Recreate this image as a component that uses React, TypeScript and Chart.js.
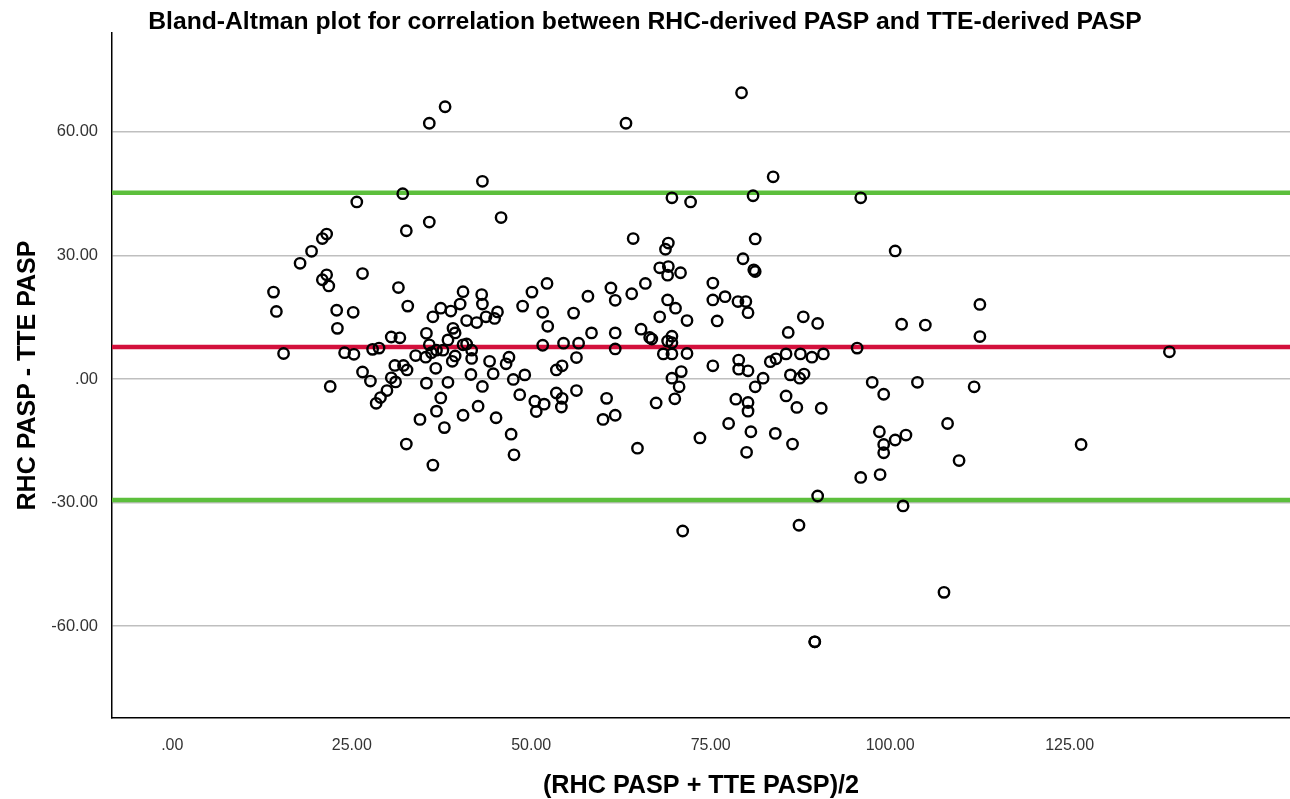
import React, { useEffect, useRef } from 'react';
import { Chart, registerables } from 'chart.js';

Chart.register(...registerables);

// (RHC PASP + TTE PASP)/2
const meanValues = [
  14.1, 14.5, 15.5, 17.8, 19.4, 20.9, 21.5, 20.9, 21.5, 21.8,
  22.0, 22.9, 23.0, 24.0, 25.3, 25.2, 25.7, 26.5, 26.5, 27.6,
  27.9, 28.8, 28.4, 29.0, 29.9, 30.5, 31.7, 30.5, 31.1, 31.0,
  32.2, 32.7, 31.5, 32.1, 32.6, 32.8, 33.9, 32.6, 34.5, 35.8,
  38.0, 35.8, 43.2, 45.8, 35.4, 36.3, 37.4, 38.8, 40.1, 40.5,
  43.1, 43.2, 41.0, 42.4, 43.7, 39.1, 39.4, 38.4, 35.8, 36.8,
  37.7, 35.3, 36.1, 40.5, 41.0, 41.7, 41.7, 39.4, 39.0, 36.7,
  35.4, 38.4, 41.6, 43.2, 37.4, 36.8, 40.5, 42.6, 37.9, 36.3,
  44.9, 45.3, 48.8, 50.1, 52.2, 51.6, 52.3, 51.6, 44.2, 44.7,
  45.1, 46.5, 46.9, 47.5, 49.1, 47.2, 47.6, 48.4, 50.5, 51.8,
  50.7, 53.5, 54.3, 53.5, 54.3, 54.2, 54.5, 56.6, 56.3, 56.3,
  55.9, 57.9, 61.1, 61.7, 64.0, 65.9, 63.2, 64.2, 69.1, 68.7,
  67.9, 69.1, 69.0, 70.8, 69.0, 70.1, 67.9, 71.7, 65.3, 66.5,
  66.8, 69.6, 69.0, 69.6, 58.4, 61.7, 61.7, 68.4, 69.6, 71.7,
  60.5, 60.0, 61.7, 64.8, 67.4, 70.9, 69.6, 70.6, 70.0, 71.1,
  73.5, 69.6, 72.2, 79.3, 83.7, 80.9, 95.9, 81.2, 100.7, 79.5,
  81.0, 81.2, 75.3, 77.0, 75.3, 78.8, 79.9, 80.2, 75.9, 85.8,
  87.9, 89.9, 101.6, 104.9, 112.5, 112.5, 95.4, 75.3, 78.9, 78.9,
  80.2, 83.3, 84.1, 85.5, 87.5, 89.1, 90.7, 82.3, 81.2, 86.1,
  88.0, 87.4, 78.5, 80.2, 80.2, 85.5, 87.0, 90.4, 97.5, 99.1,
  103.8, 111.7, 77.5, 80.6, 84.0, 80.0, 86.4, 98.5, 99.1, 99.1,
  100.7, 102.2, 108.0, 109.6, 95.9, 98.6, 89.9, 101.8, 87.3, 107.5,
  89.5, 89.5, 138.9, 126.6,
];

// RHC PASP - TTE PASP
const diffValues = [
  21.1, 16.4, 6.2, 28.1, 31.0, 34.1, 35.2, 24.1, 25.3, 22.6,
  -1.8, 16.7, 12.3, 6.4, 6.0, 16.2, 43.0, 25.6, 1.7, -0.5,
  7.2, 7.5, -5.9, -4.5, -2.8, 10.2, 10.0, 0.3, -0.7, 3.3,
  3.3, 2.2, 22.2, 45.0, 36.0, 17.7, 5.7, -15.8, -9.8, 62.1,
  66.1, 38.1, 48.0, 39.2, 11.1, 15.1, 17.2, 16.5, 18.2, 21.2,
  20.5, 18.2, 14.2, 13.7, 15.1, 12.3, 11.2, 9.5, 8.3, 7.0,
  7.0, 5.3, 6.4, 8.3, 8.5, 7.0, 5.0, 5.6, 4.3, 2.6,
  -1.0, -0.8, 1.1, -1.8, -4.6, -7.8, -8.8, -6.6, -11.8, -20.9,
  14.7, 16.3, 17.7, 21.1, 23.2, 16.2, 12.8, 8.2, 4.3, 1.3,
  -9.4, 3.7, 5.3, -0.1, 1.0, -13.4, -18.4, -3.8, -5.4, -6.1,
  -7.9, 2.2, 3.2, -3.4, -4.7, -6.8, 8.7, 8.7, 5.2, -2.8,
  16.0, 20.1, 22.1, 19.1, 20.7, 23.2, 62.1, 34.1, 33.0, 31.5,
  27.0, 27.3, 25.2, 25.8, 19.2, 17.2, 15.1, 14.2, 12.1, 10.1,
  9.7, 10.4, 9.2, 8.8, 11.2, 11.2, 7.3, 6.1, 6.1, 6.2,
  -4.7, -9.8, -8.8, -16.8, -5.8, 1.8, 0.2, -1.9, -4.8, -36.9,
  -14.3, 44.0, 43.0, 69.5, 49.1, 44.5, 44.0, 34.0, 31.1, 29.2,
  26.5, 26.1, 23.3, 20.0, 19.2, 18.8, 18.8, 16.1, 14.1, 11.3,
  15.1, 13.5, 13.3, 13.1, 18.1, 10.3, 7.5, 3.2, 4.6, 2.4,
  2.0, 4.2, 4.9, 6.1, 6.1, 5.3, 6.1, 0.2, -1.9, 1.0,
  1.2, 0.2, -4.9, -5.7, -7.8, -4.1, -6.9, -7.1, -0.8, -3.7,
  -0.8, -1.9, -10.8, -12.8, -13.2, -17.8, -15.8, -12.8, -15.9, -17.9,
  -14.8, -13.6, -10.8, -19.8, -23.9, -23.2, -28.4, -30.8, -35.5, -51.8,
  -63.8, -63.8, 6.6, -15.9,
];

const meanDifference = 7.8;
const upperLimit = 45.2;
const lowerLimit = -29.4;

const xTicks = [0, 25, 50, 75, 100, 125];
const yTicks = [-60, -30, 0, 30, 60];
const xRange = [-8.4, 155.7];
const yRange = [-82.3, 84.0];

const titleText = 'Bland-Altman plot for correlation between RHC-derived PASP and TTE-derived PASP';
const xTitle = '(RHC PASP + TTE PASP)/2';
const yTitle = 'RHC PASP - TTE PASP';

const FONT = '"Liberation Sans", Arial, Helvetica, sans-serif';

const fmt = (v: number | string) => {
  const s = Number(v).toFixed(2);
  return s.replace(/^(-?)0\./, '$1.');
};

export default function App() {
  const ref = useRef<HTMLCanvasElement>(null);

  useEffect(() => {
    document.body.style.margin = '0';
    const canvas = ref.current;
    if (!canvas) return;
    const hLine = (v: number) => [
      { x: xRange[0], y: v },
      { x: xRange[1], y: v },
    ];
    const chart = new Chart(canvas, {
      type: 'scatter',
      data: {
        datasets: [
          {
            label: 'Difference',
            data: meanValues.map((m, i) => ({ x: m, y: diffValues[i] })),
            pointStyle: 'circle',
            pointRadius: 5.2,
            pointBorderWidth: 2.4,
            pointBorderColor: '#000000',
            pointBackgroundColor: 'rgba(0,0,0,0)',
            showLine: false,
          } as any,
          {
            type: 'line',
            label: 'Upper LoA',
            data: hLine(upperLimit),
            borderColor: '#5cbf3c',
            borderWidth: 4.5,
            pointRadius: 0,
          } as any,
          {
            type: 'line',
            label: 'Mean',
            data: hLine(meanDifference),
            borderColor: '#d3103c',
            borderWidth: 4.5,
            pointRadius: 0,
          } as any,
          {
            type: 'line',
            label: 'Lower LoA',
            data: hLine(lowerLimit),
            borderColor: '#5cbf3c',
            borderWidth: 4.5,
            pointRadius: 0,
          } as any,
        ],
      },
      options: {
        responsive: false,
        animation: false,
        layout: { padding: 0, autoPadding: false },
        plugins: {
          legend: { display: false },
          tooltip: { enabled: false },
          title: {
            display: true,
            text: titleText,
            color: '#000000',
            font: { family: FONT, size: 24.7, weight: 'bold', lineHeight: 0.9 },
            padding: { top: 10.8, bottom: 0 },
          },
        },
        scales: {
          x: {
            type: 'linear',
            min: xRange[0],
            max: xRange[1],
            afterBuildTicks: (s: any) => {
              s.ticks = xTicks.map((v) => ({ value: v }));
            },
            afterFit: (s: any) => {
              s.height = 81;
            },
            grid: { display: false, drawTicks: false },
            border: { display: true, color: '#000000', width: 1.5 },
            ticks: {
              callback: (v: any) => fmt(v),
              padding: 18,
              color: '#333333',
              font: { family: FONT, size: 16 },
              maxRotation: 0,
              autoSkip: false,
            },
            title: {
              display: true,
              text: xTitle,
              color: '#000000',
              font: { family: FONT, size: 25.2, weight: 'bold', lineHeight: 1 },
              padding: { top: 0, bottom: 0 },
            },
          },
          y: {
            type: 'linear',
            min: yRange[0],
            max: yRange[1],
            afterBuildTicks: (s: any) => {
              s.ticks = yTicks.map((v) => ({ value: v }));
            },
            afterFit: (s: any) => {
              s.width = 112;
            },
            grid: { display: true, drawTicks: false, color: '#bfbfbf', lineWidth: 1.5 },
            border: { display: true, color: '#000000', width: 1.5 },
            ticks: {
              callback: (v: any) => fmt(v),
              padding: 14,
              color: '#333333',
              font: { family: FONT, size: 16.5 },
              autoSkip: false,
            },
            title: {
              display: true,
              text: yTitle,
              color: '#000000',
              font: { family: FONT, size: 25, weight: 'bold', lineHeight: 1 },
              padding: { top: 16, bottom: 0 },
            },
          },
        },
      } as any,
    });
    return () => chart.destroy();
  }, []);

  return (
    <div style={{ width: 1290, height: 799, background: '#ffffff' }}>
      <canvas ref={ref} width={1290} height={799} style={{ display: 'block' }} />
    </div>
  );
}
